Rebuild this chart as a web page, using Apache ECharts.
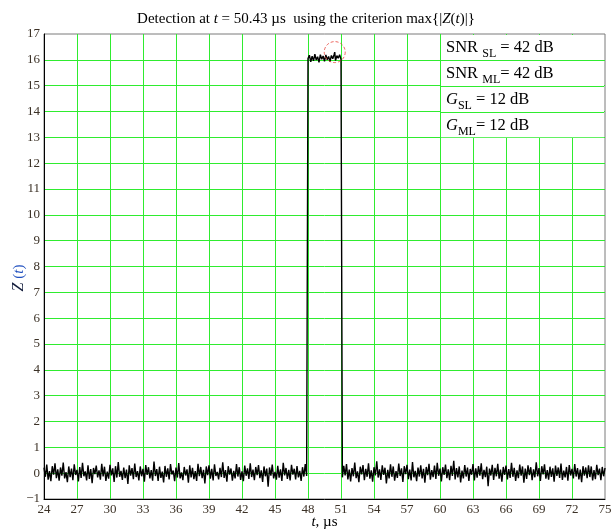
<!DOCTYPE html>
<html>
<head>
<meta charset="utf-8">
<script src="https://cdn.jsdelivr.net/npm/echarts@6/dist/echarts.min.js"></script>
<style>
  html, body { margin: 0; padding: 0; background: #ffffff; }
  #chart { width: 612px; height: 529px; }
</style>
</head>
<body>
<div id="chart"></div>
<script>
// Sampled detector output Z(t): noise before the pulse, the pulse plateau, noise after it.
const sampleStep = 0.125;          // µs between samples
const leftStart = 24;              // µs
const pulseStart = 48;             // µs
const rightStart = 51.125;         // µs

const noiseLeft = [
  0.21,-0.14,0.33,-0.25,0.08,-0.31,0.27,-0.06,
  0.38,-0.19,0.15,-0.29,0.22,-0.1,0.41,-0.2,
  0.04,-0.35,0.26,-0.15,0.18,-0.27,0.34,-0.07,
  0.13,-0.32,0.24,-0.18,0.4,-0.12,0.07,-0.28,
  0.3,-0.22,0.16,-0.39,0.2,-0.04,0.29,-0.16,
  0.11,-0.25,0.36,-0.13,0.25,-0.3,0.06,-0.21,
  0.32,-0.09,0.19,-0.34,0.27,-0.17,0.43,-0.14,
  0.09,-0.26,0.22,-0.19,0.14,-0.42,0.3,-0.1,
  0.2,-0.23,0.37,-0.15,0.08,-0.28,0.26,-0.12,
  0.17,-0.33,0.31,-0.07,0.23,-0.2,0.12,-0.29,
  0.45,-0.11,0.16,-0.3,0.25,-0.18,0.06,-0.36,
  0.28,-0.14,0.19,-0.24,0.35,-0.05,0.1,-0.31,
  0.22,-0.17,0.39,-0.2,0.03,-0.27,0.24,-0.09,
  0.15,-0.37,0.3,-0.16,0.21,-0.23,0.08,-0.3,
  0.36,-0.12,0.24,-0.19,0.13,-0.4,0.26,-0.08,
  0.3,-0.21,0.17,-0.28,0.34,-0.11,0.05,-0.24,
  0.21,-0.15,0.42,-0.18,0.12,-0.33,0.27,-0.06,
  0.18,-0.29,0.09,-0.2,0.35,-0.13,0.23,-0.26,
  0.07,-0.31,0.29,-0.1,0.19,-0.22,0.38,-0.15,
  0.14,-0.27,0.24,-0.08,0.31,-0.19,0.11,-0.34,
  0.26,-0.12,0.18,-0.52,0.22,-0.1,0.33,-0.2,
  0.05,-0.25,0.28,-0.17,0.15,-0.3,0.4,-0.09,
  0.2,-0.22,0.13,-0.28,0.32,-0.06,0.17,-0.24,
  0.27,-0.16,0.09,-0.3,0.23,-0.13,0.35,-0.11
];

const pulse = [
  16.05,16.18,15.92,16.14,15.96,16.22,15.99,16.12,15.9,16.2,16.02,16.15,15.94,
  16.19,16.0,16.13,15.93,16.17,16.04,16.21,15.97,16.16,16.06,16.2,16.02
];

const noiseRight = [
  -0.16,0.28,-0.09,0.35,-0.24,0.14,-0.32,0.2,
  -0.12,0.41,-0.19,0.07,-0.35,0.25,-0.05,0.31,
  -0.27,0.17,-0.14,0.38,-0.21,0.11,-0.33,0.23,
  -0.09,0.46,-0.17,0.15,-0.26,0.3,-0.07,0.21,
  -0.4,0.13,-0.2,0.34,-0.14,0.26,-0.29,0.08,
  -0.18,0.37,-0.11,0.19,-0.34,0.27,-0.04,0.32,
  -0.23,0.14,-0.28,0.43,-0.16,0.09,-0.31,0.22,
  -0.13,0.3,-0.2,0.17,-0.37,0.24,-0.08,0.36,
  -0.25,0.12,-0.15,0.29,-0.22,0.4,-0.1,0.18,
  -0.32,0.23,-0.07,0.33,-0.19,0.15,-0.27,0.28,
  -0.11,0.48,-0.24,0.2,-0.16,0.26,-0.36,0.1,
  -0.2,0.31,-0.13,0.22,-0.3,0.16,-0.06,0.35,
  -0.28,0.19,-0.17,0.27,-0.1,0.38,-0.23,0.13,
  -0.15,0.25,-0.5,0.18,-0.09,0.32,-0.26,0.21,
  -0.12,0.36,-0.21,0.14,-0.33,0.24,-0.07,0.29,
  -0.24,0.16,-0.18,0.4,-0.14,0.21,-0.3,0.11,
  -0.19,0.33,-0.1,0.26,-0.37,0.18,-0.22,0.3,
  -0.08,0.23,-0.27,0.15,-0.16,0.42,-0.12,0.2,
  -0.3,0.27,-0.05,0.34,-0.21,0.12,-0.25,0.25,
  -0.14,0.19,-0.33,0.29,-0.11,0.22,-0.18,0.37,
  -0.26,0.1,-0.16,0.24,-0.29,0.31,-0.09,0.17,
  -0.2,0.35,-0.13,0.2,-0.24,0.14,-0.35,0.27,
  -0.1,0.22,-0.19,0.3,-0.15,0.26,-0.28,0.12,
  -0.23,0.32,-0.08,0.18,-0.27,0.24,-0.12,0.2
];

// Detected maximum
const peakT = 50.43;
const peakZ = 16.3;

// Parameter box rows
const paramRows = [
  { base: 'SNR', sub: 'SL', gap: ' ', rest: ' = 42 dB', italic: false },
  { base: 'SNR', sub: 'ML', gap: ' ', rest: '= 42 dB', italic: false },
  { base: 'G', sub: 'SL', gap: '', rest: ' = 12 dB', italic: true },
  { base: 'G', sub: 'ML', gap: '', rest: '= 12 dB', italic: true }
];

const xMin = 24, xMax = 75, xStep = 3;
const yMin = -1, yMax = 17, yStep = 1;

const SERIF = '"Liberation Serif", "DejaVu Serif", serif';
const GRID_GREEN = '#2fec2f';
const LABEL_COLOR = '#3b3126';

function sampled(start, values) {
  return values.map((v, i) => [start + i * sampleStep, v]);
}

const pulseData = sampled(pulseStart, pulse);
// put the detected maximum into the plateau at its own time
const insertAt = pulseData.findIndex(p => p[0] > peakT);
pulseData.splice(insertAt, 0, [peakT, peakZ]);

const signal = sampled(leftStart, noiseLeft).concat(pulseData, sampled(rightStart, noiseRight));

const chart = echarts.init(document.getElementById('chart'), null, { renderer: 'canvas' });

chart.setOption({
  animation: false,
  backgroundColor: '#ffffff',
  title: {
    left: 'center',
    top: 7,
    // rich tokens cannot hold a closing brace, so the last "}" is plain text
    text: '{n|Detection at }{i|t}{n| = 50.43 \u00b5s  using the criterion max{|}{i|Z}{n|(}{i|t}{n|)|}}',
    textStyle: {
      fontFamily: SERIF, fontSize: 15, fontWeight: 'normal', color: '#000',
      rich: {
        n: { fontFamily: SERIF, fontSize: 15, fontWeight: 'normal', color: '#000' },
        i: { fontFamily: SERIF, fontSize: 15, fontWeight: 'normal', fontStyle: 'italic', color: '#000' }
      }
    }
  },
  grid: {
    left: 44, right: 7, top: 34, bottom: 30,
    outerBoundsMode: 'none',
    containLabel: false,
    show: true, borderColor: '#7a7a7a', borderWidth: 1, backgroundColor: 'transparent'
  },
  xAxis: {
    type: 'value',
    min: xMin, max: xMax, interval: xStep,
    name: '{i|t}{n|, \u00b5s}',
    nameLocation: 'middle',
    nameGap: 16,
    nameMoveOverlap: false,
    nameTextStyle: {
      verticalAlign: 'top',
      rich: {
        n: { fontFamily: SERIF, fontSize: 15, color: '#000' },
        i: { fontFamily: SERIF, fontSize: 15, fontStyle: 'italic', color: '#000' }
      }
    },
    axisLine: { show: true, onZero: false, lineStyle: { color: '#000', width: 1 } },
    axisTick: { show: false },
    axisLabel: { fontFamily: SERIF, fontSize: 13, color: LABEL_COLOR, margin: 4, showMaxLabel: true, hideOverlap: false },
    splitLine: { show: true, showMinLine: false, showMaxLine: false, lineStyle: { color: GRID_GREEN, width: 1 } }
  },
  yAxis: {
    type: 'value',
    min: yMin, max: yMax, interval: yStep,
    axisLine: { show: true, onZero: false, lineStyle: { color: '#000', width: 1 } },
    axisTick: { show: false },
    axisLabel: {
      fontFamily: SERIF, fontSize: 13, color: LABEL_COLOR, margin: 4,
      formatter: v => String(v).replace('-', '\u2212')
    },
    splitLine: { show: true, showMinLine: false, showMaxLine: false, lineStyle: { color: GRID_GREEN, width: 1 } }
  },
  series: [
    {
      type: 'line',
      data: signal,
      showSymbol: false,
      symbol: 'none',
      sampling: 'none',
      lineStyle: { color: '#000', width: 1.4 },
      z: 3
    },
    {
      type: 'scatter',
      data: [[peakT, peakZ]],
      symbol: 'circle',
      symbolSize: 21,
      itemStyle: { color: 'rgba(0,0,0,0)', borderColor: '#e8453c', borderWidth: 1, borderType: [3, 2] },
      z: 4
    }
  ]
});

// Parameter box in the upper right corner and the axis title on the left
const measureCtx = document.createElement('canvas').getContext('2d');
function textWidth(str, size, italic) {
  measureCtx.font = (italic ? 'italic ' : '') + size + 'px ' + SERIF;
  return measureCtx.measureText(str).width;
}

const boxLeftTop = chart.convertToPixel({ gridIndex: 0 }, [60, 17]);
const boxRightBottom = chart.convertToPixel({ gridIndex: 0 }, [75, 13]);
const graphics = [{
  type: 'rect',
  shape: {
    x: boxLeftTop[0] + 1, y: boxLeftTop[1] + 1,
    width: boxRightBottom[0] - boxLeftTop[0] - 2, height: boxRightBottom[1] - boxLeftTop[1] - 1
  },
  style: { fill: '#ffffff' },
  z: 10
}];
[16, 15, 14].forEach(v => {
  const a = chart.convertToPixel({ gridIndex: 0 }, [60, v]);
  const b = chart.convertToPixel({ gridIndex: 0 }, [75, v]);
  graphics.push({
    type: 'line',
    shape: { x1: a[0], y1: Math.round(a[1]) + 0.5, x2: b[0] - 1, y2: Math.round(b[1]) + 0.5 },
    style: { stroke: GRID_GREEN, lineWidth: 1 },
    z: 11
  });
});
paramRows.forEach((row, i) => {
  const mid = chart.convertToPixel({ gridIndex: 0 }, [60, 16.5 - i]);
  let x = mid[0] + 6;
  const y = mid[1] + 1;
  const mainSize = 16.5, subSize = 12;
  graphics.push({
    type: 'text', z: 12,
    style: { x: x, y: y, text: row.base, font: (row.italic ? 'italic ' : '') + mainSize + 'px ' + SERIF,
             fill: '#000', verticalAlign: 'middle', align: 'left' }
  });
  x += textWidth(row.base + row.gap, mainSize, row.italic);
  graphics.push({
    type: 'text', z: 12,
    style: { x: x, y: y + 6, text: row.sub, font: subSize + 'px ' + SERIF,
             fill: '#000', verticalAlign: 'middle', align: 'left' }
  });
  x += textWidth(row.sub, subSize, false);
  graphics.push({
    type: 'text', z: 12,
    style: { x: x, y: y, text: row.rest, font: mainSize + 'px ' + SERIF,
             fill: '#000', verticalAlign: 'middle', align: 'left' }
  });
});
graphics.push({
  type: 'text', z: 12,
  x: 19, y: 278, rotation: Math.PI / 2,
  style: {
    text: '{z|Z}{p| (}{t|t}{p|)}',
    align: 'center', verticalAlign: 'middle',
    rich: {
      z: { font: 'italic 16px ' + SERIF, fill: '#111a3a' },
      p: { font: '15px ' + SERIF, fill: '#1f4fbf' },
      t: { font: 'italic 15px ' + SERIF, fill: '#1f4fbf' }
    }
  }
});
chart.setOption({ graphic: graphics });
</script>
</body>
</html>
